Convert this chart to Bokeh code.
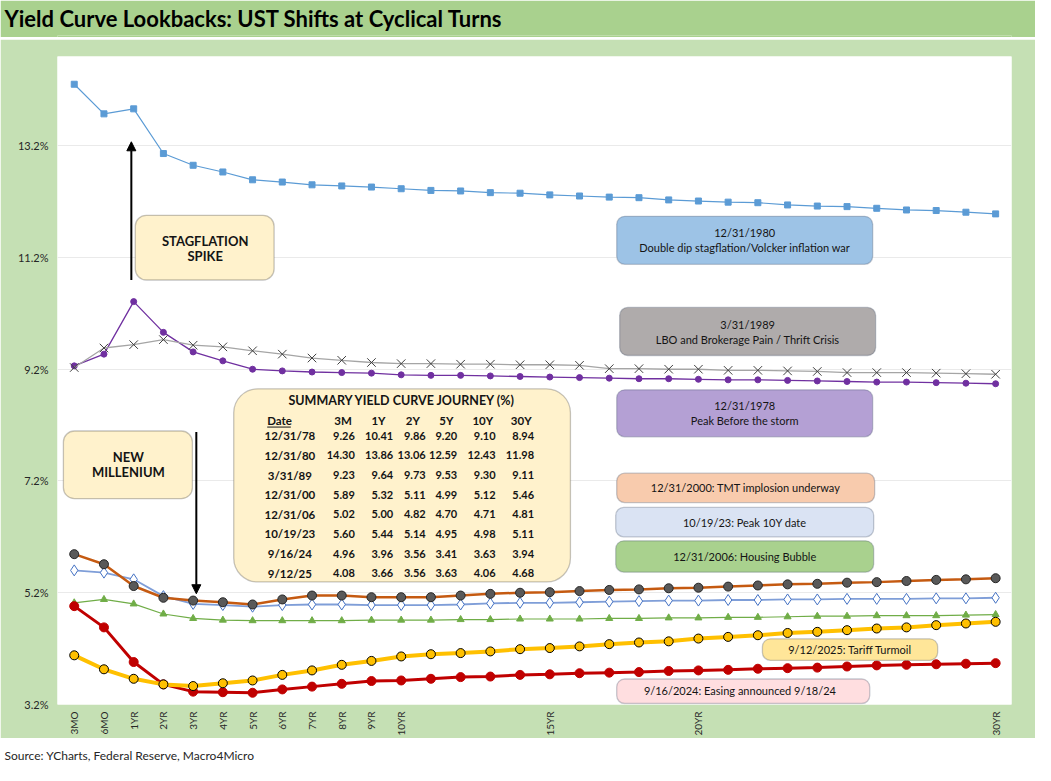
import math
from bokeh.plotting import figure
from bokeh.layouts import column
from bokeh.models import (Range1d, FixedTicker, PrintfTickFormatter, Label, BoxAnnotation,
                          Arrow, NormalHead, ColumnDataSource, Title)
from bokeh.embed import file_html
from bokeh.resources import INLINE

# ---------------- data ----------------
tenors = ["3MO", "6MO", "1YR", "2YR", "3YR", "4YR", "5YR", "6YR", "7YR", "8YR", "9YR", "10YR",
          "11YR", "12YR", "13YR", "14YR", "15YR", "16YR", "17YR", "18YR", "19YR", "20YR",
          "21YR", "22YR", "23YR", "24YR", "25YR", "26YR", "27YR", "28YR", "29YR", "30YR"]
shown_tenors = ["3MO", "6MO", "1YR", "2YR", "3YR", "4YR", "5YR", "6YR", "7YR", "8YR", "9YR",
                "10YR", "15YR", "20YR", "30YR"]

y1980 = [14.30, 13.77, 13.86, 13.06, 12.85, 12.73, 12.59, 12.55, 12.50, 12.48, 12.46, 12.43,
         12.40, 12.39, 12.36, 12.35, 12.32, 12.30, 12.28, 12.27, 12.23, 12.21, 12.19, 12.18,
         12.14, 12.12, 12.11, 12.08, 12.05, 12.04, 12.01, 11.98]
y1978 = [9.26, 9.47, 10.41, 9.86, 9.51, 9.35, 9.20, 9.17, 9.15, 9.14, 9.13, 9.10,
         9.09, 9.09, 9.08, 9.07, 9.06, 9.05, 9.04, 9.03, 9.03, 9.02, 9.01, 9.01,
         9.00, 8.99, 8.98, 8.97, 8.97, 8.96, 8.95, 8.94]
y1989 = [9.23, 9.58, 9.64, 9.73, 9.63, 9.60, 9.53, 9.47, 9.40, 9.36, 9.32, 9.30,
         9.30, 9.29, 9.29, 9.28, 9.28, 9.27, 9.21, 9.21, 9.20, 9.20, 9.18, 9.18,
         9.17, 9.16, 9.14, 9.14, 9.14, 9.13, 9.12, 9.11]
y2000 = [5.89, 5.71, 5.32, 5.11, 5.06, 5.03, 4.99, 5.08, 5.15, 5.15, 5.12, 5.12,
         5.12, 5.15, 5.18, 5.20, 5.21, 5.23, 5.25, 5.26, 5.28, 5.29, 5.31, 5.33,
         5.35, 5.36, 5.38, 5.39, 5.41, 5.43, 5.44, 5.46]
y2006 = [5.02, 5.08, 5.00, 4.82, 4.74, 4.71, 4.70, 4.70, 4.70, 4.70, 4.71, 4.71,
         4.71, 4.72, 4.72, 4.73, 4.73, 4.73, 4.74, 4.74, 4.75, 4.75, 4.76, 4.76,
         4.77, 4.78, 4.78, 4.79, 4.79, 4.79, 4.80, 4.81]
y2023 = [5.60, 5.56, 5.44, 5.14, 5.00, 4.98, 4.95, 4.98, 4.99, 4.99, 4.98, 4.98,
         4.98, 4.99, 5.01, 5.02, 5.02, 5.03, 5.04, 5.05, 5.06, 5.06, 5.07, 5.07,
         5.08, 5.08, 5.09, 5.09, 5.09, 5.10, 5.10, 5.11]
y2024 = [4.96, 4.58, 3.96, 3.56, 3.43, 3.42, 3.41, 3.47, 3.52, 3.57, 3.62, 3.63,
         3.66, 3.69, 3.70, 3.73, 3.74, 3.76, 3.77, 3.78, 3.80, 3.81, 3.82, 3.84,
         3.85, 3.86, 3.88, 3.90, 3.91, 3.92, 3.93, 3.94]
y2025 = [4.08, 3.83, 3.66, 3.56, 3.53, 3.58, 3.63, 3.73, 3.81, 3.91, 3.98, 4.06,
         4.10, 4.12, 4.15, 4.19, 4.21, 4.24, 4.28, 4.31, 4.33, 4.38, 4.41, 4.44,
         4.48, 4.50, 4.53, 4.56, 4.58, 4.62, 4.65, 4.68]

table_cols = ["3M", "1Y", "2Y", "5Y", "10Y", "30Y"]
table_tenors = ["3MO", "1YR", "2YR", "5YR", "10YR", "30YR"]
table_dates = ["12/31/78", "12/31/80", "3/31/89", "12/31/00", "12/31/06", "10/19/23", "9/16/24", "9/12/25"]
table_series = [y1978, y1980, y1989, y2000, y2006, y2023, y2024, y2025]

y_ticks = [3.2, 5.2, 7.2, 9.2, 11.2, 13.2]

FONT = "Lato"
W = 1035
BL, BR = 57, 24   # left / right borders shared by all stacked figures
x_idx = list(range(len(tenors)))


def strip(height, bg):
    f = figure(width=W, height=height, output_backend="svg", toolbar_location=None, title=None,
               x_axis_type=None, y_axis_type=None,
               x_range=Range1d(0, 1), y_range=Range1d(0, 1),
               min_border_left=BL, min_border_right=BR, min_border_top=0, min_border_bottom=0)
    f.outline_line_color = None
    f.background_fill_color = bg
    f.border_fill_color = bg
    return f


# ---------------- title bar ----------------
tf = strip(37, "#A9D18E")
tf.add_layout(Title(text="Yield Curve Lookbacks: UST Shifts at Cyclical Turns", align="left",
                    offset=4 - BL, standoff=6, vertical_align="middle",
                    text_font=FONT, text_font_size="22px", text_font_style="bold",
                    text_color="black"), "above")
lf = strip(2, "black")


# ---------------- main chart ----------------
def X(px):
    return (px - 75) / 30.19


def Y(py):
    return 3.2 + (718 - py) / 57.0


p = figure(width=W, height=699, output_backend="svg", toolbar_location=None, title=None,
           x_range=Range1d(X(58), X(1027)), y_range=Range1d(3.2, Y(57)),
           min_border_left=BL, min_border_right=BR, min_border_top=17, min_border_bottom=34)
p.background_fill_color = "white"
p.border_fill_color = "#C5E0B4"
p.outline_line_color = None
p.xgrid.visible = False
p.ygrid.grid_line_color = "#EAEAEA"
p.ygrid.grid_line_width = 1

p.yaxis.ticker = FixedTicker(ticks=y_ticks)
p.yaxis.formatter = PrintfTickFormatter(format="%.1f%%")
p.yaxis.axis_line_color = None
p.yaxis.major_tick_line_color = None
p.yaxis.minor_tick_line_color = None
p.yaxis.major_tick_out = 0
p.yaxis.major_tick_in = 0
p.yaxis.minor_tick_out = 0
p.yaxis.major_label_standoff = 9
p.yaxis.major_label_text_font = FONT
p.yaxis.major_label_text_font_size = "11px"
p.yaxis.major_label_text_color = "#262626"

p.xaxis.ticker = FixedTicker(ticks=x_idx)
p.xaxis.major_label_overrides = {i: (t if t in shown_tenors else "") for i, t in enumerate(tenors)}
p.xaxis.major_label_orientation = math.pi / 2
p.xaxis.axis_line_color = None
p.xaxis.major_tick_line_color = None
p.xaxis.minor_tick_line_color = None
p.xaxis.major_tick_out = 0
p.xaxis.major_tick_in = 0
p.xaxis.minor_tick_out = 0
p.xaxis.major_label_standoff = 7
p.xaxis.major_label_text_font = FONT
p.xaxis.major_label_text_font_size = "10px"
p.xaxis.major_label_text_color = "#262626"

src = ColumnDataSource(dict(x=x_idx, y1980=y1980, y1978=y1978, y1989=y1989, y2000=y2000,
                            y2006=y2006, y2023=y2023, y2024=y2024, y2025=y2025))

p.line("x", "y1980", source=src, line_color="#5B9BD5", line_width=1.2)
p.scatter("x", "y1980", source=src, marker="square", size=6, fill_color="#5B9BD5", line_color="#5B9BD5")
p.line("x", "y1978", source=src, line_color="#7030A0", line_width=1.3)
p.scatter("x", "y1978", source=src, marker="circle", size=6, fill_color="#7030A0", line_color="#7030A0")
p.line("x", "y1989", source=src, line_color="#A5A5A5", line_width=1.3)
p.scatter("x", "y1989", source=src, marker="x", size=12, line_color="#404040", line_width=1)
p.line("x", "y2006", source=src, line_color="#70AD47", line_width=1.2)
p.scatter("x", "y2006", source=src, marker="triangle", size=7, fill_color="#70AD47", line_color="#70AD47")
p.line("x", "y2023", source=src, line_color="#7F9ED8", line_width=1.8)
p.scatter("x", "y2023", source=src, marker="diamond", size=11, fill_color="white", line_color="#4472C4", line_width=1)
p.line("x", "y2000", source=src, line_color="#C55A11", line_width=2.5)
p.scatter("x", "y2000", source=src, marker="circle", size=9, fill_color="#595959", line_color="#262626", line_width=1)
p.line("x", "y2024", source=src, line_color="#C00000", line_width=3)
p.scatter("x", "y2024", source=src, marker="circle", size=9, fill_color="#C00000", line_color="#C00000")
p.line("x", "y2025", source=src, line_color="#FFC000", line_width=4)
p.scatter("x", "y2025", source=src, marker="circle", size=9, fill_color="#FFC000", line_color="black", line_width=1)


# ---------------- annotation boxes ----------------
def box(l, r, t, b, fill, line="#44546A", radius=8):
    p.add_layout(BoxAnnotation(left=X(l), right=X(r), top=Y(t), bottom=Y(b),
                               fill_color=fill, fill_alpha=1.0, line_color=line,
                               line_width=1.3, border_radius=radius))


def txt(cx, cy, s, size="11px", bold=False, align="center"):
    p.add_layout(Label(x=X(cx), y=Y(cy), text=s, text_font=FONT, text_font_size=size,
                       text_font_style="bold" if bold else "normal", text_color="#141414",
                       text_align=align, text_baseline="middle"))


box(137, 278, 219, 285, "#FFF2CC", line="#404040", radius=11)
txt(208, 245, "STAGFLATION", "13px", True)
txt(208, 260, "SPIKE", "13px", True)
p.add_layout(Arrow(end=NormalHead(size=9, fill_color="black", line_color="black"),
                   x_start=X(133), y_start=Y(285), x_end=X(133), y_end=Y(144),
                   line_color="black", line_width=2))

box(64, 195, 439, 508, "#FFF2CC", line="#404040", radius=11)
txt(130, 466, "NEW", "13px", True)
txt(130, 481, "MILLENIUM", "13px", True)
p.add_layout(Arrow(end=NormalHead(size=9, fill_color="black", line_color="black"),
                   x_start=X(199), y_start=Y(440), x_end=X(199), y_end=Y(605),
                   line_color="black", line_width=2))

# summary table
box(237, 579, 396, 593, "#FFF2CC", line="#404040", radius=24)
txt(408, 408, "SUMMARY YIELD CURVE JOURNEY (%)", "12.5px", True)
head_cx = [348, 384, 419, 453, 490, 529]
val_rx = [360, 399, 432, 464, 503, 542]
txt(271, 428, "Date", "11.5px", True, align="left")
p.add_layout(Arrow(end=None, x_start=X(271), y_start=Y(435), x_end=X(295), y_end=Y(435),
                   line_color="#141414", line_width=1))
for c, cx in zip(table_cols, head_cx):
    txt(cx, 428, c, "11.5px", True)
for k, (d, ser) in enumerate(zip(table_dates, table_series)):
    ry = 444 + 20 * k
    txt(294, ry, d, "11.5px", True)
    for tt, rx in zip(table_tenors, val_rx):
        txt(rx, ry, "%.2f" % ser[tenors.index(tt)], "11px", True, align="right")

# series boxes
box(626, 886, 220, 269, "#9DC3E6")
txt(756, 237, "12/31/1980")
txt(756, 252, "Double dip stagflation/Volcker inflation war")

box(629, 889, 313, 362, "#AFABAB")
txt(759, 330, "3/31/1989")
txt(759, 346, "LBO and Brokerage Pain / Thrift Crisis")

box(626, 886, 397, 445, "#B4A0D4")
txt(756, 413, "12/31/1978")
txt(756, 428, "Peak Before the storm")

box(626, 888, 482, 512, "#F8CBAD")
txt(757, 497, "12/31/2000: TMT implosion underway")

box(625, 887, 517, 547, "#DAE3F3")
txt(756, 532, "10/19/23: Peak 10Y date")

box(625, 887, 551, 583, "#A9D18E")
txt(756, 567, "12/31/2006: Housing Bubble")

box(774, 952, 651, 673, "#FFE699")
txt(863, 662, "9/12/2025: Tariff Turmoil")

box(626, 883, 692, 717, "#FFDEE0")
txt(754, 704, "9/16/2024:  Easing announced  9/18/24")

# ---------------- source strip ----------------
sf = strip(27, "white")
sf.add_layout(Title(text="Source: YCharts, Federal Reserve, Macro4Micro", align="left",
                    offset=4 - BL, standoff=4, vertical_align="middle",
                    text_font=FONT, text_font_size="12px", text_font_style="normal",
                    text_color="#262626"), "below")

layout = column(tf, lf, p, sf, spacing=0)
open("out.html", "w").write(file_html(layout, INLINE))
